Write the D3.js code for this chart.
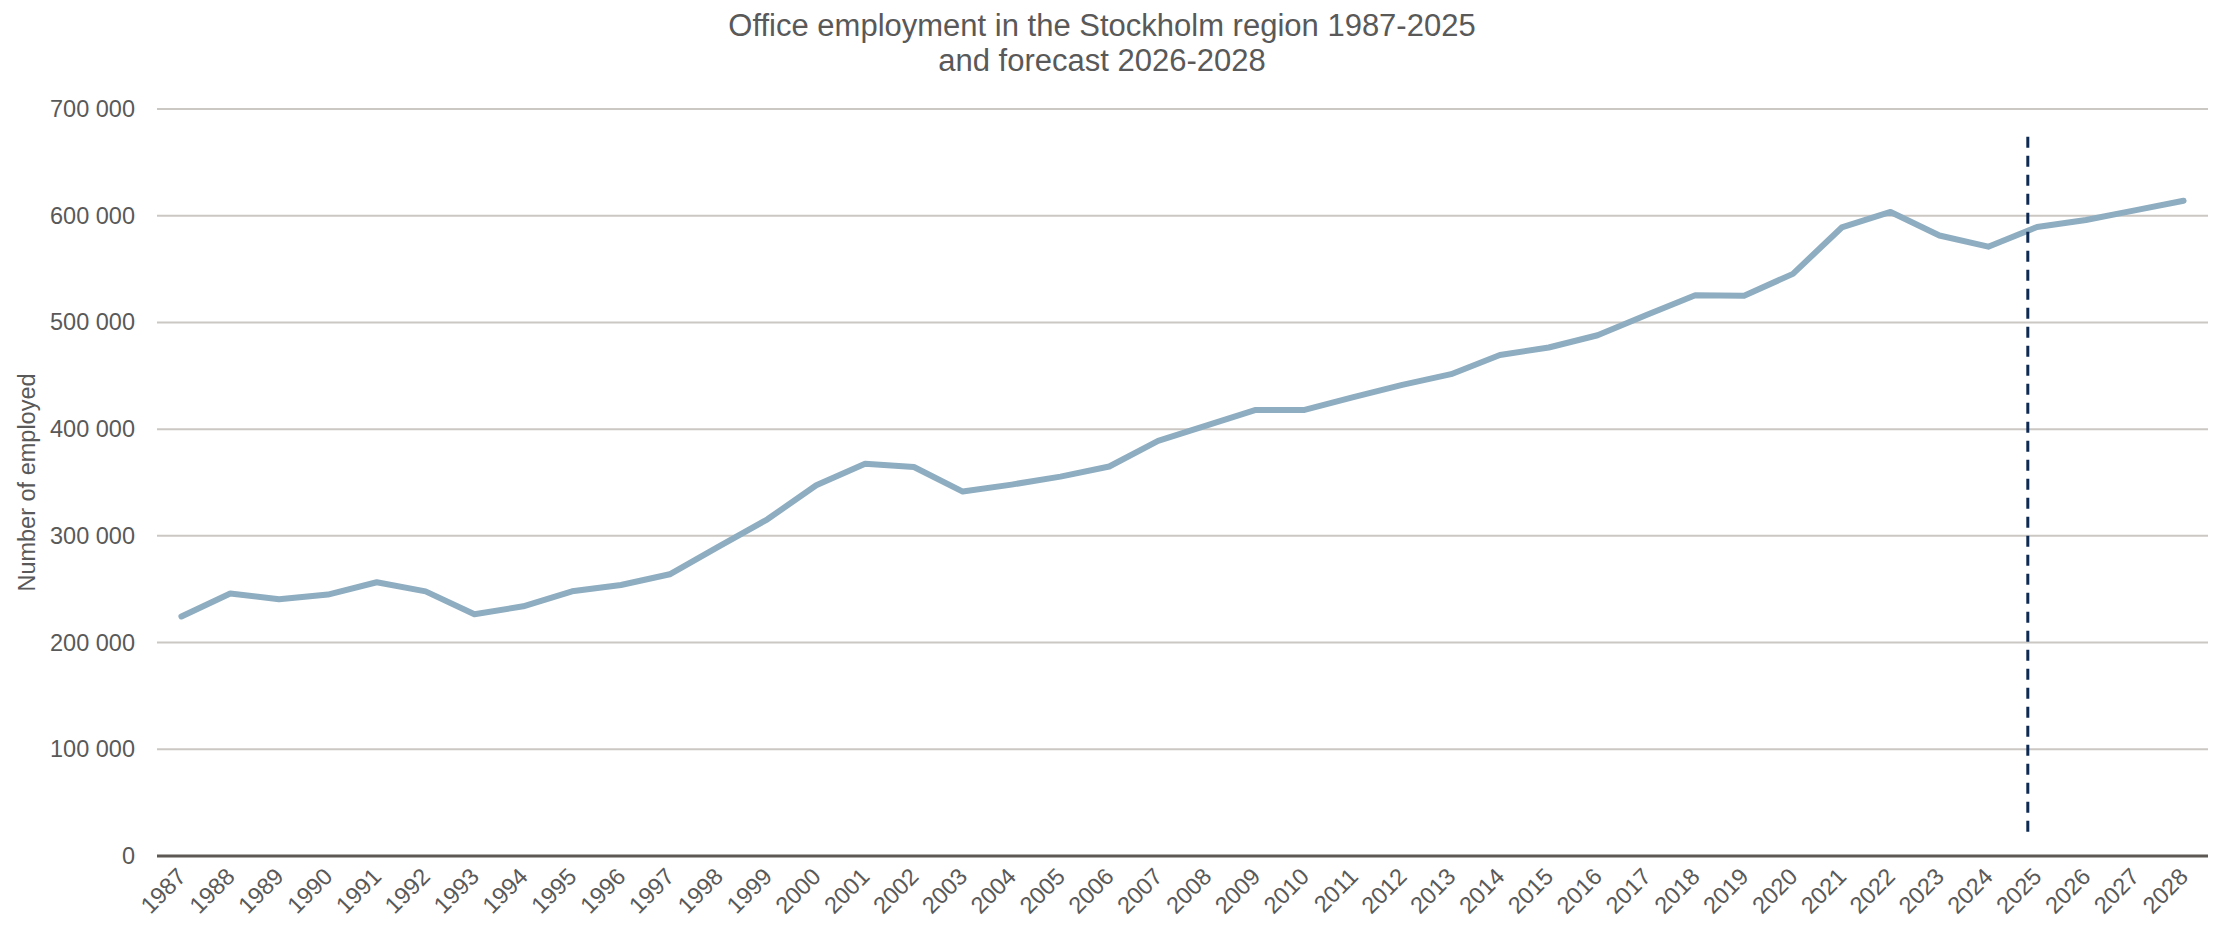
<!DOCTYPE html>
<html>
<head>
<meta charset="utf-8">
<script src="https://cdn.jsdelivr.net/npm/d3@7"></script>
<style>
  html, body { margin: 0; padding: 0; background: #ffffff; }
  svg { display: block; }
  text { font-family: "Liberation Sans", Arial, sans-serif; }
</style>
</head>
<body>
<svg id="chart" width="2216" height="925"></svg>
<script>
// Office employment, Stockholm region (outcome 1987-2025, forecast 2026-2028)
const years = [
  "1987","1988","1989","1990","1991","1992","1993","1994","1995","1996",
  "1997","1998","1999","2000","2001","2002","2003","2004","2005","2006",
  "2007","2008","2009","2010","2011","2012","2013","2014","2015","2016",
  "2017","2018","2019","2020","2021","2022","2023","2024","2025","2026",
  "2027","2028"
];
const employed = [
  224500, 246000, 240500, 245000, 256500, 248000, 226500, 234000, 248000, 254000,
  264000, 290000, 315500, 347500, 367500, 364500, 341500, 348000, 355500, 365000,
  389000, 403500, 418000, 418000, 430000, 441500, 451500, 469500, 476500, 488000,
  507000, 525500, 525000, 545500, 589000, 603500, 581500, 571000, 589500, 596000,
  605000, 614000
];
const yTicks = [0, 100000, 200000, 300000, 400000, 500000, 600000, 700000];
const titleLines = ["Office employment in the Stockholm region 1987-2025", "and forecast 2026-2028"];
const yAxisTitle = "Number of employed";
// Vertical marker separating outcome and forecast, spanning these values
const forecastYear = "2025";
const markerSpan = [20000, 674000];

const width = 2216, height = 925;
const margin = { top: 109, right: 8, bottom: 69, left: 157 };
const svg = d3.select("#chart");

const x = d3.scaleBand()
  .domain(years)
  .range([margin.left, width - margin.right])
  .padding(0);

const y = d3.scaleLinear()
  .domain([0, 700000])
  .range([height - margin.bottom, margin.top]);

const fmt = d3.formatLocale({ decimal: ",", thousands: " ", grouping: [3], currency: ["", ""] }).format(",d");

// Horizontal gridlines
svg.append("g")
  .selectAll("line")
  .data(yTicks.filter(d => d > 0))
  .join("line")
  .attr("x1", margin.left)
  .attr("x2", width - margin.right)
  .attr("y1", d => y(d))
  .attr("y2", d => y(d))
  .attr("stroke", "#cbc7c3")
  .attr("stroke-width", 2);

// Y axis labels
const yAxis = d3.axisLeft(y).tickValues(yTicks).tickFormat(fmt).tickSize(0).tickPadding(22);
const gy = svg.append("g")
  .attr("transform", `translate(${margin.left},0)`)
  .call(yAxis);
gy.select(".domain").remove();
gy.attr("font-size", null).attr("font-family", null);
gy.selectAll("text")
  .style("font-size", "23.5px")
  .style("font-family", "'Liberation Sans', Arial, sans-serif")
  .attr("fill", "#595959");

// X axis
const xAxis = d3.axisBottom(x).tickSize(0).tickPadding(0);
const gx = svg.append("g")
  .attr("transform", `translate(0,${y(0)})`)
  .call(xAxis);
gx.select(".domain").remove();
gx.attr("font-size", null).attr("font-family", null);
gx.selectAll("text")
  .style("font-size", "23.5px")
  .style("font-family", "'Liberation Sans', Arial, sans-serif")
  .attr("fill", "#595959")
  .attr("text-anchor", "end")
  .attr("dy", null)
  .attr("y", null)
  .attr("transform", "translate(6,22) rotate(-45)");

// Zero baseline
svg.append("line")
  .attr("x1", margin.left)
  .attr("x2", width - margin.right)
  .attr("y1", y(0))
  .attr("y2", y(0))
  .attr("stroke", "#5d5853")
  .attr("stroke-width", 3.2);

// Employment line
const line = d3.line()
  .x((d, i) => x(years[i]) + x.bandwidth() / 2)
  .y(d => y(d));

svg.append("path")
  .datum(employed)
  .attr("d", line)
  .attr("fill", "none")
  .attr("stroke", "#8eadc0")
  .attr("stroke-width", 6)
  .attr("stroke-linejoin", "round")
  .attr("stroke-linecap", "round");

// Forecast marker (dashed)
const mx = x(forecastYear) + x.bandwidth() * 0.31;
svg.append("line")
  .attr("x1", mx)
  .attr("x2", mx)
  .attr("y1", y(markerSpan[1]))
  .attr("y2", y(markerSpan[0]))
  .attr("stroke", "#0f2a52")
  .attr("stroke-width", 3)
  .attr("stroke-dasharray", "11 8");

// Title
svg.append("text")
  .attr("x", 1102)
  .attr("y", 36)
  .attr("text-anchor", "middle")
  .style("font-size", "31px")
  .attr("fill", "#595959")
  .selectAll("tspan")
  .data(titleLines)
  .join("tspan")
  .attr("x", 1102)
  .attr("dy", (d, i) => i === 0 ? 0 : 35)
  .text(d => d);

// Y axis title
svg.append("text")
  .attr("transform", `translate(35,${(y(0) + y(700000)) / 2}) rotate(-90)`)
  .attr("text-anchor", "middle")
  .style("font-size", "23.5px")
  .attr("fill", "#595959")
  .text(yAxisTitle);
</script>
</body>
</html>
